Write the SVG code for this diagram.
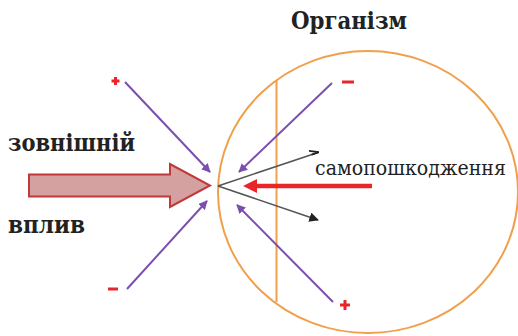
<svg xmlns="http://www.w3.org/2000/svg" width="518" height="336" viewBox="0 0 518 336">
<style>
.title{font-family:"DejaVu Serif","Liberation Serif",serif;font-weight:bold;font-size:25px;fill:#222}
.lbl{font-family:"DejaVu Serif","Liberation Serif",serif;font-size:19px;fill:#222}
.org{fill:none;stroke:#f0a04b;stroke-width:2}
.pu{stroke:#7b4fae;stroke-width:2;fill:none;marker-end:url(#mp)}
.gr{stroke:#555;stroke-width:1.6;fill:none}
.sign{stroke:#e8262a;stroke-width:3;fill:none}
</style>
<defs>
<marker id="mp" viewBox="0 0 10 10" refX="9" refY="5" markerWidth="4.5" markerHeight="4.5" orient="auto" markerUnits="strokeWidth">
<path d="M0,0 L10,5 L0,10 z" fill="#7b4fae"/>
</marker>
<marker id="mg" viewBox="0 0 10 10" refX="9" refY="5" markerWidth="6" markerHeight="6" orient="auto" markerUnits="strokeWidth">
<path d="M0,0 L10,5 L0,10 z" fill="#222"/>
</marker>
<marker id="mg2" viewBox="0 0 10 10" refX="9" refY="5" markerWidth="6" markerHeight="6" orient="auto" markerUnits="strokeWidth">
<path d="M0,0 L10,5 L2,5" fill="none" stroke="#222" stroke-width="1.8"/>
</marker>
<marker id="mr" viewBox="0 0 10 10" refX="1" refY="5" markerWidth="3.2" markerHeight="3.2" orient="auto" markerUnits="strokeWidth">
<path d="M0,0 L10,5 L0,10 z" fill="#e8262a"/>
</marker>
</defs>
<g id="organism">
<ellipse class="org" cx="368" cy="192" rx="150" ry="141"/>
<line class="org" x1="276.5" y1="80" x2="276.5" y2="302"/>
<text class="title" x="291" y="29" textLength="116" lengthAdjust="spacingAndGlyphs">Організм</text>
</g>
<g id="external">
<text class="title" x="8" y="151" textLength="127" lengthAdjust="spacingAndGlyphs">зовнішній</text>
<text class="title" x="8" y="233" textLength="77" lengthAdjust="spacingAndGlyphs">вплив</text>
<path d="M29,174.5 H170 V164 L210,185.5 L170,207 V196.5 H29 Z" fill="#d4a0a0" stroke="#c0393b" stroke-width="2" stroke-linejoin="miter"/>
</g>
<g id="self-damage">
<text class="lbl" transform="translate(315,175) scale(1,1.1)" x="0" y="0">самопошкодження</text>
</g>
<g id="connectors">
<line x1="372" y1="186" x2="256" y2="186" stroke="#e8262a" stroke-width="4.5" marker-end="url(#mr)"/>
<line class="gr" x1="218" y1="186" x2="318" y2="152.5" marker-end="url(#mg2)"/>
<line class="gr" x1="218" y1="186" x2="318" y2="220" marker-end="url(#mg)"/>
<line class="pu" x1="125" y1="82" x2="210" y2="172"/>
<line class="pu" x1="127" y1="289" x2="207" y2="201"/>
<line class="pu" x1="332" y1="83" x2="239" y2="172"/>
<line class="pu" x1="333" y1="302" x2="237" y2="205"/>
</g>
<g id="signs">
<path class="sign" d="M111.5,81 h8 M115.5,77 v8"/>
<path class="sign" d="M342,82 h12"/>
<path class="sign" d="M108,289 h10"/>
<path class="sign" d="M340,305 h10 M345,300 v10"/>
</g>
</svg>
